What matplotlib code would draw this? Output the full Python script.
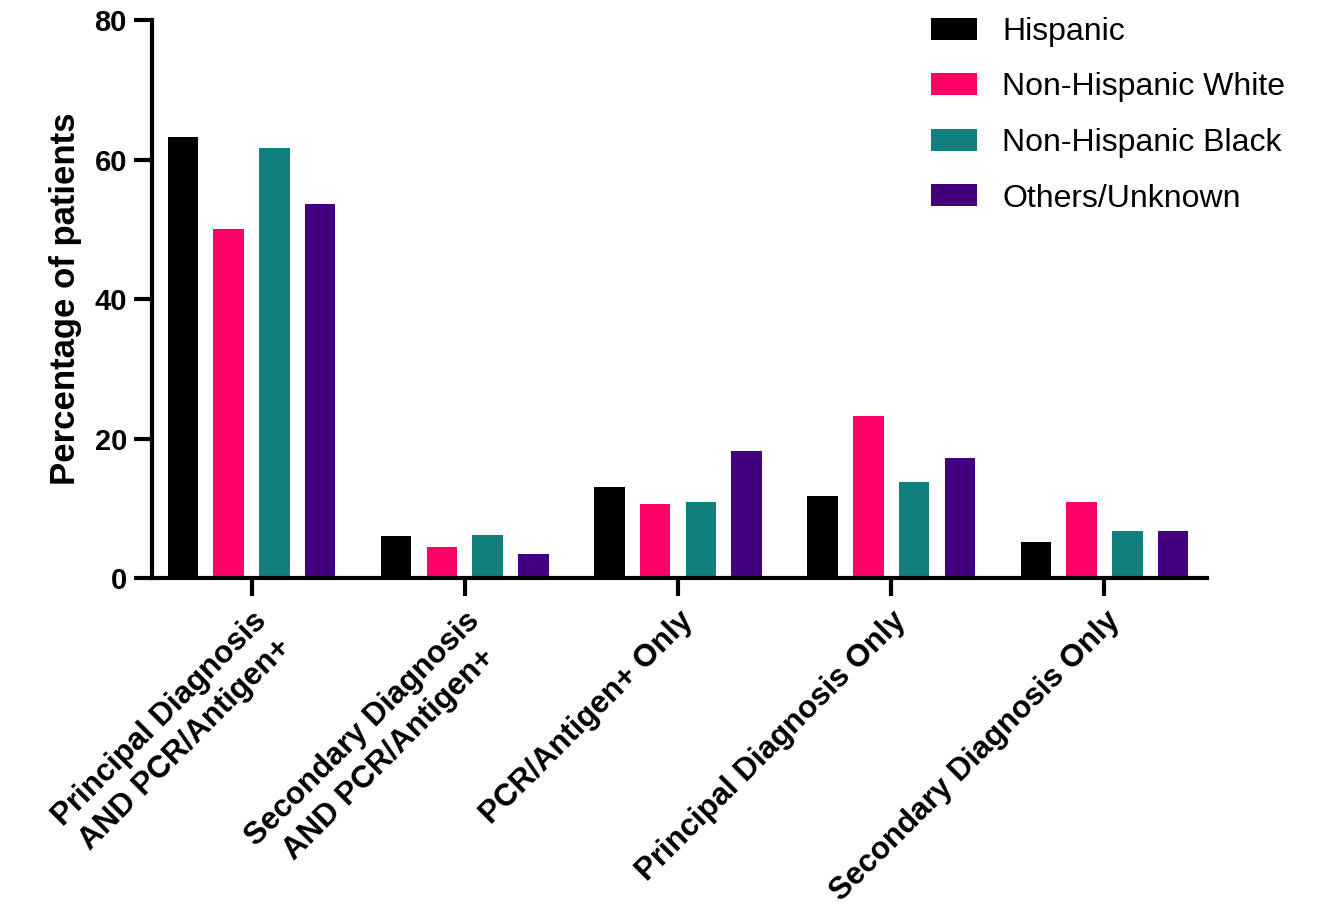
import matplotlib
matplotlib.use("Agg")
import matplotlib.pyplot as plt
import numpy as np

plt.rcParams['font.family'] = ['Liberation Sans', 'DejaVu Sans']

categories = ['Principal Diagnosis\nAND PCR/Antigen+',
              'Secondary Diagnosis\nAND PCR/Antigen+',
              'PCR/Antigen+ Only',
              'Principal Diagnosis Only',
              'Secondary Diagnosis Only']
groups = ['Hispanic', 'Non-Hispanic White', 'Non-Hispanic Black', 'Others/Unknown']
hispanic = [63.3, 6.0, 13.0, 11.7, 5.1]
nh_white = [50.1, 4.4, 10.6, 23.3, 10.9]
nh_black = [61.7, 6.1, 10.9, 13.8, 6.8]
others = [53.6, 3.4, 18.2, 17.2, 6.8]
colors = ['#000000', '#FF0066', '#117F7E', '#42007E']

series = [hispanic, nh_white, nh_black, others]

fig = plt.figure(figsize=(13.18, 9.11), dpi=100)
ax = fig.add_axes([0.1153, 0.3655, 0.8005, 0.6125])

x = np.arange(len(categories))
width = 0.143
step = 0.2143
for i, (vals, lab, c) in enumerate(zip(series, groups, colors)):
    ax.bar(x + (i - 1.5) * step, vals, width, color=c, label=lab)

ax.set_xlim(-0.467, 4.481)
ax.set_ylim(0, 80)
ax.set_yticks([0, 20, 40, 60, 80])
ax.set_xticks(x)
ax.set_xticklabels(categories, rotation=45, ha='right', rotation_mode='anchor',
                   fontsize=22.5, fontweight='bold', multialignment='center',
                   linespacing=1.3)
for t in ax.get_yticklabels():
    t.set_fontsize(21)
    t.set_fontweight('bold')

ax.set_ylabel('Percentage of patients', fontsize=25, fontweight='bold', labelpad=9)

for s in ['top', 'right']:
    ax.spines[s].set_visible(False)
for s in ['left', 'bottom']:
    ax.spines[s].set_linewidth(3)
ax.tick_params(axis='both', width=3, length=13, direction='out')
ax.tick_params(axis='x', pad=7)
ax.tick_params(axis='y', pad=5)

ax.legend(loc='upper left', bbox_to_anchor=(0.694, 0.999), bbox_transform=fig.transFigure,
          frameon=False, fontsize=23, handlelength=1.44, handleheight=0.69,
          labelspacing=0.8, handletextpad=0.8, borderpad=0)

fig.savefig('out.png', dpi=100)
